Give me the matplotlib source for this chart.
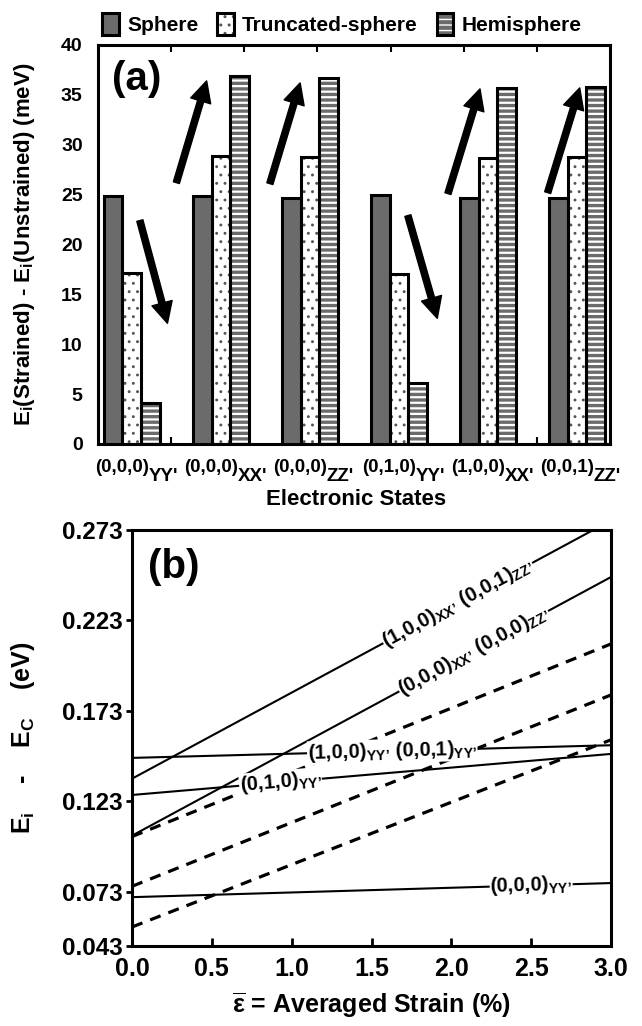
import numpy as np
import matplotlib
matplotlib.use("Agg")
import matplotlib.pyplot as plt
import matplotlib.transforms as mtransforms
from matplotlib.patches import Patch

plt.rcParams.update({
    "font.family": ["Liberation Sans", "DejaVu Sans"],
    "font.weight": "bold",
    "axes.labelweight": "bold",
    "mathtext.fontset": "custom",
    "mathtext.rm": "Liberation Sans:bold",
    "mathtext.it": "Liberation Sans:bold",
    "mathtext.bf": "Liberation Sans:bold",
    "mathtext.default": "rm",
    "axes.linewidth": 2.2,
})

# ---- data, panel (a): strain-induced shift of each state (meV) ----
states = ["(0,0,0)", "(0,0,0)", "(0,0,0)", "(0,1,0)", "(1,0,0)", "(0,0,1)"]
state_subs = ["YY'", "XX'", "ZZ'", "YY'", "XX'", "ZZ'"]
sphere = [24.9, 24.9, 24.7, 25.0, 24.7, 24.7]
truncated = [17.1, 28.9, 28.8, 17.0, 28.7, 28.8]
hemisphere = [4.1, 36.9, 36.7, 6.1, 35.7, 35.8]
# trend arrows (tail x, tail y, head x, head y)
trend_arrows = [(0.09, 22.4, 0.40, 12.1), (0.50, 26.2, 0.84, 36.4),
                (1.55, 26.1, 1.89, 36.2), (3.10, 22.9, 3.43, 12.6),
                (3.55, 25.1, 3.91, 35.6), (4.67, 25.2, 5.03, 35.7)]

# ---- data, panel (b): level energy vs averaged strain (eV) ----
strain = [0.0, 3.0]
e_100xx = [0.1355, 0.2783]
e_000xx = [0.1040, 0.2470]
e_100yy = [0.1470, 0.1540]
e_010yy = [0.1265, 0.1492]
e_000yy = [0.0700, 0.0778]
dash_1 = [0.1035, 0.2100]
dash_2 = [0.0760, 0.1818]
dash_3 = [0.0535, 0.1570]
yticks_b = [0.043, 0.073, 0.123, 0.173, 0.223, 0.273]
xticks_b = [0.0, 0.5, 1.0, 1.5, 2.0, 2.5, 3.0]

fig = plt.figure(figsize=(6.42, 10.26), dpi=100)
W, H = 642, 1026
ax = fig.add_axes([98 / W, 1 - 444 / H, 512 / W, 399 / H])
axb = fig.add_axes([132 / W, 1 - 946 / H, 479 / W, 416 / H])

# ---------------- panel (a) ----------------
x = np.arange(len(states))
w = 0.21
SPH = "#6b6b6b"
with plt.rc_context({"hatch.linewidth": 0.9}):
    ax.bar(x, truncated, w, facecolor="white", edgecolor="#555555",
           linewidth=0, hatch="..", zorder=2)
with plt.rc_context({"hatch.linewidth": 1.6}):
    ax.bar(x + w, hemisphere, w, facecolor=SPH, edgecolor="white",
           linewidth=0, hatch="---", zorder=2)
ax.bar(x - w, sphere, w, facecolor=SPH, edgecolor="black", linewidth=2.2, zorder=3)
ax.bar(x, truncated, w, fill=False, edgecolor="black", linewidth=2.2, zorder=3)
ax.bar(x + w, hemisphere, w, fill=False, edgecolor="black", linewidth=2.2, zorder=3)

for x0, y0, x1, y1 in trend_arrows:
    ax.annotate("", xy=(x1, y1), xytext=(x0, y0),
                arrowprops=dict(facecolor="black", edgecolor="black", width=4.5,
                                headwidth=15, headlength=15, shrink=0))

xl = (-0.38, 5.37)
ax.set_xlim(*xl)
ax.set_ylim(0, 40)
ax.set_yticks(range(0, 41, 5))
ax.tick_params(axis="y", length=0, pad=11, labelsize=14)
ax.set_xticks(np.linspace(xl[0], xl[1], 8)[1:-1], minor=True)
ax.set_xticks([])
ax.tick_params(axis="x", which="minor", direction="in", top=True, bottom=True,
               length=5, width=1.5)
blend = mtransforms.blended_transform_factory(ax.transData, ax.transAxes)
for i in range(len(states)):
    ax.text(i + 0.19, -0.038, states[i], transform=blend, ha="right", va="top",
            fontsize=13.5)
    ax.text(i + 0.19, -0.06, state_subs[i], transform=blend, ha="left", va="top",
            fontsize=13.5)
ax.set_xlabel("Electronic States", fontsize=16)
ax.xaxis.set_label_coords(0.505, -0.113)
ax.set_ylabel(r"$E_i$(Strained) - $E_i$(Unstrained) (meV)", fontsize=16)
ax.yaxis.set_label_coords(-0.119, 0.5)
ax.text(0.027, 0.915, "(a)", transform=ax.transAxes, fontsize=29, ha="left", va="center")

with plt.rc_context({"hatch.linewidth": 0.9}):
    p_tr = Patch(facecolor="white", edgecolor="#555555", linewidth=0, hatch="..")
with plt.rc_context({"hatch.linewidth": 1.6}):
    p_he = Patch(facecolor=SPH, edgecolor="white", linewidth=0, hatch="---")
p_box = Patch(fill=False, edgecolor="black", linewidth=2.2)
p_sp = Patch(facecolor=SPH, edgecolor="black", linewidth=2.2)
fig.legend([p_sp, (p_tr, p_box), (p_he, p_box)],
           ["Sphere", "Truncated-sphere", "Hemisphere"],
           loc="center", bbox_to_anchor=(342 / W, 1 - 24 / H), ncol=3, frameon=False,
           fontsize=15, handlelength=0.8, handleheight=1.3, handletextpad=0.4,
           columnspacing=0.9, borderpad=0.1)

# ---------------- panel (b) ----------------
axb.set_xlim(0, 3)
axb.set_ylim(0.043, 0.273)
for e in (e_100xx, e_000xx, e_100yy, e_010yy, e_000yy):
    axb.plot(strain, e, color="black", linewidth=1.5, zorder=2)
for e in (dash_1, dash_2, dash_3):
    axb.plot(strain, e, color="black", linewidth=2.3, dashes=(3.5, 2.6), zorder=2)

def angle_of(e):
    p0 = axb.transData.transform((strain[0], e[0]))
    p1 = axb.transData.transform((strain[1], e[1]))
    return np.degrees(np.arctan2(p1[1] - p0[1], p1[0] - p0[0]))

labels_b = [
    (e_100xx, 2.04, r"$(1{,}0{,}0)_{XX’}\ (0{,}0{,}1)_{ZZ’}$"),
    (e_000xx, 2.14, r"$(0{,}0{,}0)_{XX’}\ (0{,}0{,}0)_{ZZ’}$"),
    (e_100yy, 1.63, r"$(1{,}0{,}0)_{YY’}\ (0{,}0{,}1)_{YY’}$"),
    (e_010yy, 0.93, r"$(0{,}1{,}0)_{YY’}$"),
    (e_000yy, 2.50, r"$(0{,}0{,}0)_{YY’}$"),
]
for e, xc, txt in labels_b:
    yc = np.interp(xc, strain, e)
    axb.text(xc, yc, txt, rotation=angle_of(e), rotation_mode="anchor",
             ha="center", va="center", fontsize=14.5, zorder=4,
             bbox=dict(facecolor="white", edgecolor="none", pad=0.3))

axb.set_yticks(yticks_b)
axb.set_yticklabels([f"{v:.3f}" for v in yticks_b])
axb.set_xticks(xticks_b)
axb.set_xticklabels([f"{v:.1f}" for v in xticks_b])
axb.tick_params(axis="y", direction="out", length=4, width=2, labelsize=17.5, pad=3)
axb.tick_params(axis="x", direction="in", length=6, width=2, labelsize=18, pad=8)
axb.set_xlabel(r"$\overline{\varepsilon}$ = Averaged Strain (%)", fontsize=18)
axb.xaxis.set_label_coords(0.5, -0.108)
axb.set_ylabel(r"$E_i$    -    $E_C$    (eV)", fontsize=18)
axb.yaxis.set_label_coords(-0.198, 0.5)
axb.text(0.033, 0.911, "(b)", transform=axb.transAxes, fontsize=29, ha="left", va="center")

fig.savefig("out.png", dpi=100)
